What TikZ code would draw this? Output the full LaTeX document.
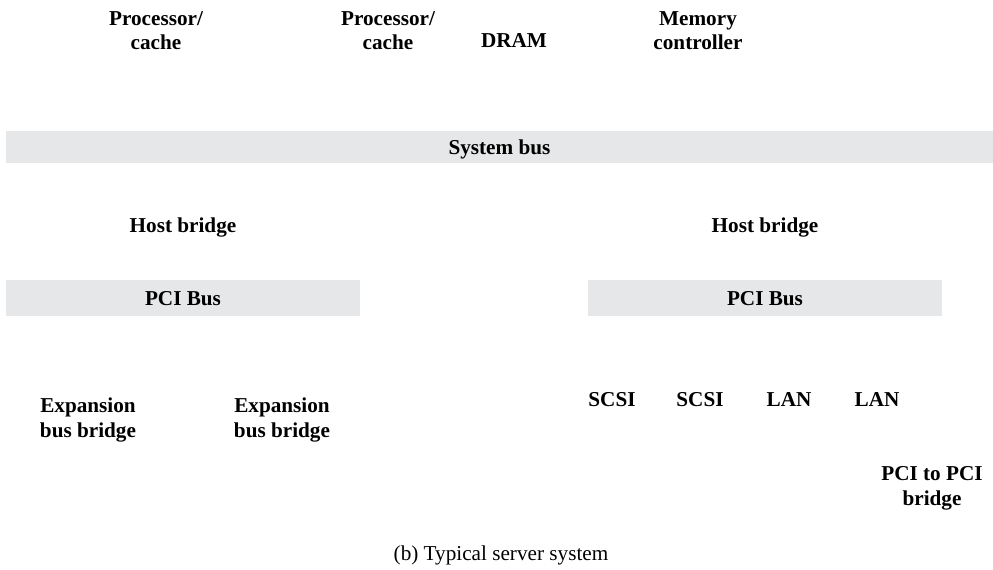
\documentclass[tikz,border=0pt]{standalone}
\usepackage{fontspec}
\setmainfont{Liberation Serif}
\definecolor{busgray}{RGB}{230,231,232}

\begin{document}
\begin{tikzpicture}[x=0.5pt, y=-0.5pt,
  lbl/.style={font=\fontsize{10.6}{12.2}\selectfont\bfseries, align=center, inner sep=0pt, anchor=base},
  bus/.style={fill=busgray, font=\fontsize{10.6}{12.2}\selectfont\bfseries, inner sep=0pt, text depth=0pt}]
\useasboundingbox (0,0) rectangle (993,569);
% ---------- buses ----------
\node[bus, minimum width=493.5pt, minimum height=16pt] (sysbus) at (499.5,147) {System bus};
\node[bus, minimum width=177pt, minimum height=18pt] (pcil) at (183,298) {PCI Bus};
\node[bus, minimum width=177pt, minimum height=18pt] (pcir) at (765,298) {PCI Bus};
% ---------- top row ----------
\node[lbl] (proca) at (156,49.5) {Processor/\\cache};
\node[lbl] (procb) at (388,49.5) {Processor/\\cache};
\node[lbl] (dram) at (514,47) {DRAM};
\node[lbl] (memctl) at (698,49.5) {Memory\\controller};
% ---------- bridges ----------
\node[lbl] (hostl) at (183,232) {Host bridge};
\node[lbl] (hostr) at (765,232) {Host bridge};
% ---------- devices ----------
\node[lbl] (expa) at (88,437) {Expansion\\bus bridge};
\node[lbl] (expb) at (282,437) {Expansion\\bus bridge};
\node[lbl] (scsia) at (612,406) {SCSI};
\node[lbl] (scsib) at (700,406) {SCSI};
\node[lbl] (lana) at (789,406) {LAN};
\node[lbl] (lanb) at (877,406) {LAN};
\node[lbl] (pcipci) at (932,505) {PCI to PCI\\bridge};
% caption
\node[lbl, font=\fontsize{10.6}{12.2}\selectfont] (caption) at (501,560) {(b) Typical server system};
\end{tikzpicture}
\end{document}
